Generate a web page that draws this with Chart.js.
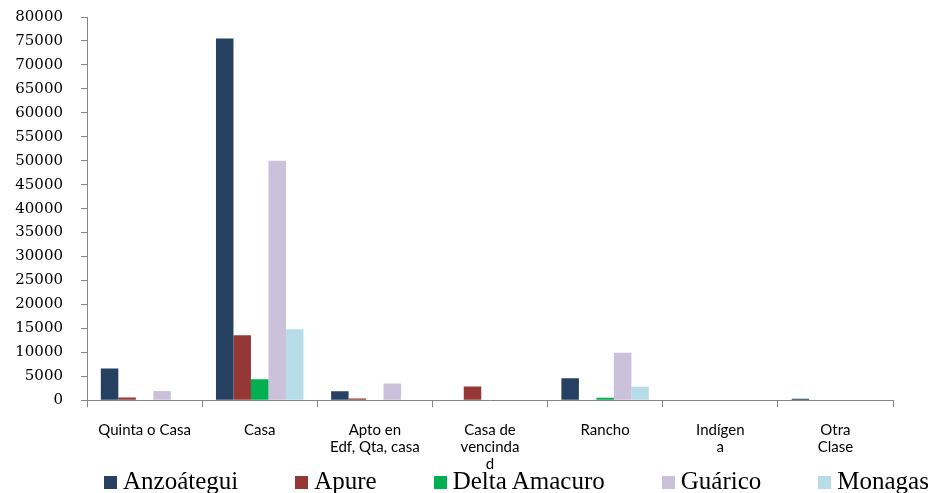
<!DOCTYPE html>
<html>
<head>
<meta charset="utf-8">
<script src="https://cdn.jsdelivr.net/npm/chart.js@4/dist/chart.umd.min.js"></script>
<style>
  body { margin: 0; background: #fff; }
  #wrap { position: relative; width: 932px; height: 493px; }
  #legend {
    position: absolute; left: 104px; top: 468px;
    display: flex; white-space: nowrap;
    font-family: "Liberation Serif", serif; font-size: 25px; line-height: 26px; color: #000;
  }
  #legend .item { margin-right: 57px; }
  #legend .box { display: inline-block; width: 13px; height: 13px; margin-right: 6px; vertical-align: baseline; }
</style>
</head>
<body>
<div id="wrap">
  <canvas id="myChart" width="932" height="493"></canvas>
  <div id="legend"></div>
</div>
<script>
// Categories (multi-line as in the original)
const categories = [
  ['Quinta o Casa'],
  ['Casa'],
  ['Apto en', 'Edf, Qta, casa'],
  ['Casa de', 'vencinda', 'd'],
  ['Rancho'],
  ['Indígen', 'a'],
  ['Otra', 'Clase'],
];

const seriesNames = ['Anzoátegui', 'Apure', 'Delta Amacuro', 'Guárico', 'Monagas'];
const seriesColors = ['#254061', '#953735', '#00b050', '#ccc1da', '#b7dee8'];

const anzoategui = [6650, 75500, 1900, 0, 4600, 0, 300];
const apure = [550, 13550, 350, 2850, 0, 0, 0];
const deltaAmacuro = [0, 4400, 0, 0, 500, 0, 0];
const guarico = [1950, 50000, 3500, 0, 9900, 0, 0];
const monagas = [0, 14800, 0, 0, 2800, 0, 0];

const yMax = 80000;
const yStep = 5000;

const seriesValues = [anzoategui, apure, deltaAmacuro, guarico, monagas];

const createChart = () => {
  const data = {
    labels: categories,
    datasets: seriesNames.map((name, i) => ({
      label: name,
      data: seriesValues[i],
      backgroundColor: seriesColors[i],
      borderWidth: 0,
    }))
  };

  const axisColor = '#868686';

  const config = {
    type: 'bar',
    data: data,
    options: {
      responsive: false,
      animation: false,
      categoryPercentage: 0.76,
      barPercentage: 1,
      layout: { padding: { top: 17, left: 15, right: 39, bottom: 6 } },
      plugins: {
        legend: { display: false },
        tooltip: { enabled: false }
      },
      scales: {
        x: {
          grid: { drawOnChartArea: false, color: axisColor, tickLength: 7 },
          border: { color: axisColor },
          ticks: {
            color: '#000',
            maxRotation: 0,
            autoSkip: false,
            padding: 14,
            font: { family: 'Lato', size: 15, lineHeight: 1.15 }
          },
          afterFit: (s) => { s.paddingLeft = 0; s.paddingRight = 0; }
        },
        y: {
          min: 0,
          max: yMax,
          grid: { drawOnChartArea: false, color: axisColor, tickLength: 6 },
          border: { color: axisColor },
          ticks: {
            stepSize: yStep,
            color: '#000',
            padding: 18,
            font: { family: 'DejaVu Serif', size: 15 },
            callback: (v) => String(v) // no thousands separator
          },
          // fixed axis width so the plot starts where the original does
          afterFit: (s) => { s.width = 72; s.paddingTop = 0; }
        }
      }
    }
  };

  chart = new Chart(document.getElementById('myChart'), config);
}

// Builds the legend below the chart from the datasets
const fillLegend = () => {
  const legend = document.getElementById('legend');
  chart.data.datasets.forEach(ds => {
    const item = document.createElement('span');
    item.className = 'item';
    const box = document.createElement('span');
    box.className = 'box';
    box.style.background = ds.backgroundColor;
    item.appendChild(box);
    item.appendChild(document.createTextNode(ds.label));
    legend.appendChild(item);
  });
}

let chart = undefined;
createChart();
fillLegend();
</script>
</body>
</html>
